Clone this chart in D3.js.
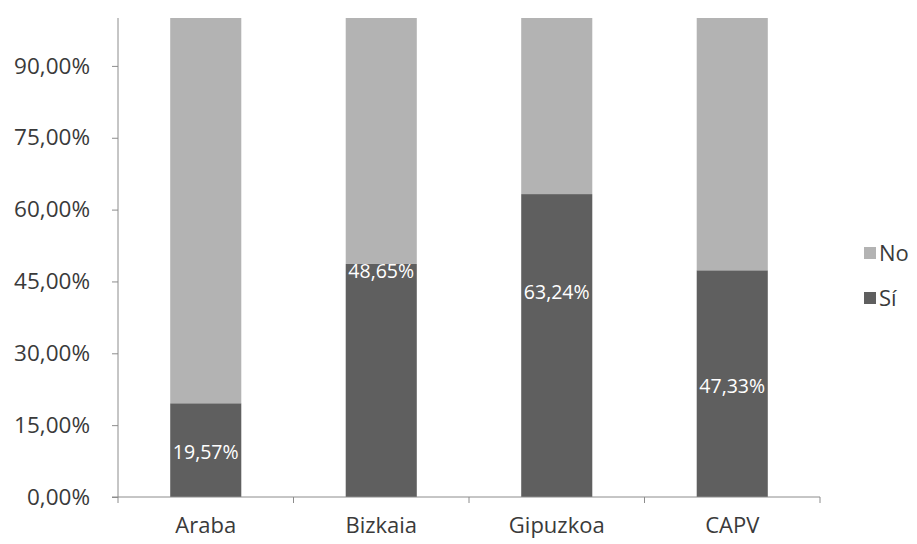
<!DOCTYPE html>
<html>
<head>
<meta charset="utf-8">
<script src="https://cdn.jsdelivr.net/npm/d3@7"></script>
<style>
  html, body { margin: 0; padding: 0; background: #fff; }
  svg { display: block; }
  svg text { font-family: "Open Sans", "Liberation Sans", sans-serif; }
</style>
</head>
<body>
<svg id="chart" width="917" height="544"></svg>
<script>
// Territories and share of answers (percent)
const categories = ["Araba", "Bizkaia", "Gipuzkoa", "CAPV"];
const siValues = [19.57, 48.65, 63.24, 47.33];
const noValues = [80.43, 51.35, 36.76, 52.67];
const yTicks = [0, 15, 30, 45, 60, 75, 90];
const seriesNames = ["Sí", "No"];

// Where each value label sits inside its bar, in axis units
const labelAnchor = [9.4, 47.2, 42.8, 23.2];

const colors = { "Sí": "#5f5f5f", "No": "#b3b3b3" };
const fmt = v => d3.format(".2f")(v).replace(".", ",") + "%";

const svg = d3.select("#chart");
const margin = { left: 118, right: 97, top: 18, bottom: 47 };
const W = 917, H = 544;

const x = d3.scaleBand()
  .domain(categories)
  .range([margin.left, W - margin.right])
  .paddingInner(0.595)
  .paddingOuter(0.2975);

const y = d3.scaleLinear()
  .domain([0, 100])
  .range([H - margin.bottom, margin.top]);

// Stack the two series
const rows = categories.map((c, i) => ({ cat: c, "Sí": siValues[i], "No": noValues[i] }));
const stack = d3.stack().keys(seriesNames)(rows);

svg.append("g").selectAll("g")
  .data(stack)
  .join("g")
  .attr("fill", d => colors[d.key])
  .selectAll("rect")
  .data(d => d)
  .join("rect")
  .attr("x", d => x(d.data.cat))
  .attr("width", x.bandwidth())
  .attr("y", d => y(d[1]))
  .attr("height", d => y(d[0]) - y(d[1]));

// Y axis
const yAxis = svg.append("g")
  .attr("transform", `translate(${margin.left},0)`)
  .call(d3.axisLeft(y).tickValues(yTicks).tickSize(6).tickPadding(22).tickFormat(fmt));
yAxis.attr("font-family", null);
yAxis.select(".domain").attr("stroke", "#8c8c8c").attr("d", `M0,${y(100)}V${y(0)}`);
yAxis.selectAll(".tick line").attr("stroke", "#8c8c8c");
yAxis.selectAll("text").attr("fill", "#3a3a3a").style("font-size", "22.5px");

// X axis with ticks between categories
const xAxisG = svg.append("g")
  .attr("transform", `translate(0,${y(0)})`);
xAxisG.append("line")
  .attr("x1", margin.left - 6).attr("x2", W - margin.right)
  .attr("stroke", "#8c8c8c");
const step = x.step();
const bounds = d3.range(categories.length + 1).map(i => margin.left + i * step);
xAxisG.selectAll("line.tk")
  .data(bounds)
  .join("line")
  .attr("class", "tk")
  .attr("x1", d => d).attr("x2", d => d)
  .attr("y1", 0).attr("y2", 6)
  .attr("stroke", "#8c8c8c");
xAxisG.selectAll("text")
  .data(categories)
  .join("text")
  .attr("x", d => x(d) + x.bandwidth() / 2)
  .attr("y", 28)
  .attr("dy", "0.35em")
  .attr("text-anchor", "middle")
  .attr("fill", "#3a3a3a")
  .style("font-size", "22px")
  .text(d => d);

// Value labels on the Sí segments
svg.append("g").selectAll("text")
  .data(categories)
  .join("text")
  .attr("x", d => x(d) + x.bandwidth() / 2)
  .attr("y", (d, i) => y(labelAnchor[i]))
  .attr("dy", "0.35em")
  .attr("text-anchor", "middle")
  .attr("fill", "#ffffff")
  .style("font-size", "19.5px")
  .text((d, i) => fmt(siValues[i]));

// Legend
const legend = svg.append("g").attr("transform", "translate(864,0)");
const legendItems = [
  { name: "No", cy: 253 },
  { name: "Sí", cy: 298 }
];
legendItems.forEach(it => {
  legend.append("rect")
    .attr("x", 0).attr("y", it.cy - 6)
    .attr("width", 12).attr("height", 12)
    .attr("fill", colors[it.name]);
  legend.append("text")
    .attr("x", 15).attr("y", it.cy)
    .attr("dy", "0.35em")
    .attr("fill", "#3a3a3a")
    .style("font-size", "22px")
    .text(it.name);
});
</script>
</body>
</html>
